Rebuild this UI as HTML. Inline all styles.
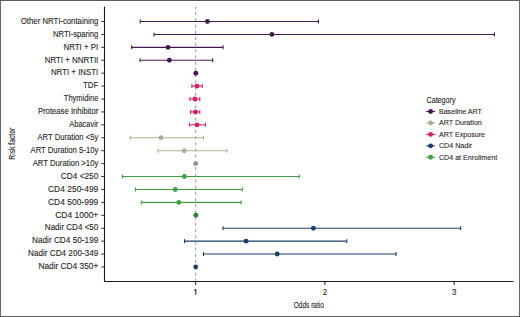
<!DOCTYPE html>
<html><head><meta charset="utf-8"><style>
html,body{margin:0;padding:0;background:#fff;}
body{width:520px;height:317px;overflow:hidden;}
.frame{position:absolute;left:0;top:0;width:518px;height:315px;border-style:solid;border-width:1px;border-color:#5a5a5a #666 #5a5a5a #686868;background:#fff;}
svg{position:absolute;left:0;top:0;}
text{font-family:"Liberation Sans",sans-serif;fill:#262626;stroke:#262626;stroke-width:0.1px;}
.yl{font-size:8.4px;}
.xl{font-size:8.7px;fill:#2a2a2a;stroke:#2a2a2a;}
.at{font-size:9.45px;fill:#222;stroke:#222;}
.lt{font-size:8.3px;}
.li{font-size:7.8px;}
</style></head><body>
<div class="frame"></div>
<svg width="520" height="317" viewBox="0 0 520 317">
<line x1="195.7" y1="6.5" x2="195.7" y2="281.5" stroke="#8a8a8a" stroke-width="0.9" stroke-dasharray="3.1 3.1" stroke-dashoffset="0.6"/>
<line x1="140.2" y1="21.50" x2="318.5" y2="21.50" stroke="#45194f" stroke-width="1.08"/>
<line x1="140.2" y1="19.50" x2="140.2" y2="23.50" stroke="#45194f" stroke-width="1.08"/>
<line x1="318.5" y1="19.50" x2="318.5" y2="23.50" stroke="#45194f" stroke-width="1.08"/>
<circle cx="207.4" cy="21.50" r="2.45" fill="#45194f"/>
<line x1="154.0" y1="34.42" x2="494.5" y2="34.42" stroke="#45194f" stroke-width="1.08"/>
<line x1="154.0" y1="32.42" x2="154.0" y2="36.42" stroke="#45194f" stroke-width="1.08"/>
<line x1="494.5" y1="32.42" x2="494.5" y2="36.42" stroke="#45194f" stroke-width="1.08"/>
<circle cx="271.9" cy="34.42" r="2.45" fill="#45194f"/>
<line x1="131.7" y1="47.34" x2="223.1" y2="47.34" stroke="#45194f" stroke-width="1.08"/>
<line x1="131.7" y1="45.34" x2="131.7" y2="49.34" stroke="#45194f" stroke-width="1.08"/>
<line x1="223.1" y1="45.34" x2="223.1" y2="49.34" stroke="#45194f" stroke-width="1.08"/>
<circle cx="168.0" cy="47.34" r="2.45" fill="#45194f"/>
<line x1="140.1" y1="60.26" x2="212.7" y2="60.26" stroke="#45194f" stroke-width="1.08"/>
<line x1="140.1" y1="58.26" x2="140.1" y2="62.26" stroke="#45194f" stroke-width="1.08"/>
<line x1="212.7" y1="58.26" x2="212.7" y2="62.26" stroke="#45194f" stroke-width="1.08"/>
<circle cx="169.3" cy="60.26" r="2.45" fill="#45194f"/>
<circle cx="195.85" cy="73.18" r="2.45" fill="#45194f"/>
<line x1="191.9" y1="86.10" x2="202.2" y2="86.10" stroke="#d41f6c" stroke-width="1.08"/>
<line x1="191.9" y1="84.10" x2="191.9" y2="88.10" stroke="#d41f6c" stroke-width="1.08"/>
<line x1="202.2" y1="84.10" x2="202.2" y2="88.10" stroke="#d41f6c" stroke-width="1.08"/>
<circle cx="197.0" cy="86.10" r="2.45" fill="#d41f6c"/>
<line x1="189.9" y1="99.02" x2="199.8" y2="99.02" stroke="#d41f6c" stroke-width="1.08"/>
<line x1="189.9" y1="97.02" x2="189.9" y2="101.02" stroke="#d41f6c" stroke-width="1.08"/>
<line x1="199.8" y1="97.02" x2="199.8" y2="101.02" stroke="#d41f6c" stroke-width="1.08"/>
<circle cx="194.9" cy="99.02" r="2.45" fill="#d41f6c"/>
<line x1="190.7" y1="111.94" x2="199.8" y2="111.94" stroke="#d41f6c" stroke-width="1.08"/>
<line x1="190.7" y1="109.94" x2="190.7" y2="113.94" stroke="#d41f6c" stroke-width="1.08"/>
<line x1="199.8" y1="109.94" x2="199.8" y2="113.94" stroke="#d41f6c" stroke-width="1.08"/>
<circle cx="195.5" cy="111.94" r="2.45" fill="#d41f6c"/>
<line x1="189.4" y1="124.86" x2="205.4" y2="124.86" stroke="#d41f6c" stroke-width="1.08"/>
<line x1="189.4" y1="122.86" x2="189.4" y2="126.86" stroke="#d41f6c" stroke-width="1.08"/>
<line x1="205.4" y1="122.86" x2="205.4" y2="126.86" stroke="#d41f6c" stroke-width="1.08"/>
<circle cx="197.0" cy="124.86" r="2.45" fill="#d41f6c"/>
<line x1="130.3" y1="137.78" x2="203.5" y2="137.78" stroke="#a9b38f" stroke-width="1.08"/>
<line x1="130.3" y1="135.78" x2="130.3" y2="139.78" stroke="#a9b38f" stroke-width="1.08"/>
<line x1="203.5" y1="135.78" x2="203.5" y2="139.78" stroke="#a9b38f" stroke-width="1.08"/>
<circle cx="161.0" cy="137.78" r="2.45" fill="#a9b38f"/>
<line x1="158.0" y1="150.70" x2="226.8" y2="150.70" stroke="#a9b38f" stroke-width="1.08"/>
<line x1="158.0" y1="148.70" x2="158.0" y2="152.70" stroke="#a9b38f" stroke-width="1.08"/>
<line x1="226.8" y1="148.70" x2="226.8" y2="152.70" stroke="#a9b38f" stroke-width="1.08"/>
<circle cx="184.2" cy="150.70" r="2.45" fill="#a9b38f"/>
<circle cx="195.7" cy="163.62" r="2.45" fill="#8f9583"/>
<line x1="122.6" y1="176.54" x2="299.3" y2="176.54" stroke="#3d9e44" stroke-width="1.08"/>
<line x1="122.6" y1="174.54" x2="122.6" y2="178.54" stroke="#3d9e44" stroke-width="1.08"/>
<line x1="299.3" y1="174.54" x2="299.3" y2="178.54" stroke="#3d9e44" stroke-width="1.08"/>
<circle cx="184.4" cy="176.54" r="2.45" fill="#3d9e44"/>
<line x1="135.5" y1="189.46" x2="242.3" y2="189.46" stroke="#3d9e44" stroke-width="1.08"/>
<line x1="135.5" y1="187.46" x2="135.5" y2="191.46" stroke="#3d9e44" stroke-width="1.08"/>
<line x1="242.3" y1="187.46" x2="242.3" y2="191.46" stroke="#3d9e44" stroke-width="1.08"/>
<circle cx="175.3" cy="189.46" r="2.45" fill="#3d9e44"/>
<line x1="141.3" y1="202.38" x2="241.1" y2="202.38" stroke="#3d9e44" stroke-width="1.08"/>
<line x1="141.3" y1="200.38" x2="141.3" y2="204.38" stroke="#3d9e44" stroke-width="1.08"/>
<line x1="241.1" y1="200.38" x2="241.1" y2="204.38" stroke="#3d9e44" stroke-width="1.08"/>
<circle cx="178.8" cy="202.38" r="2.45" fill="#3d9e44"/>
<circle cx="195.85" cy="215.30" r="2.45" fill="#2f8237"/>
<line x1="223.0" y1="228.22" x2="460.6" y2="228.22" stroke="#1a3f68" stroke-width="1.08"/>
<line x1="223.0" y1="226.22" x2="223.0" y2="230.22" stroke="#1a3f68" stroke-width="1.08"/>
<line x1="460.6" y1="226.22" x2="460.6" y2="230.22" stroke="#1a3f68" stroke-width="1.08"/>
<circle cx="313.4" cy="228.22" r="2.45" fill="#1a3f68"/>
<line x1="184.5" y1="241.14" x2="346.8" y2="241.14" stroke="#1a3f68" stroke-width="1.08"/>
<line x1="184.5" y1="239.14" x2="184.5" y2="243.14" stroke="#1a3f68" stroke-width="1.08"/>
<line x1="346.8" y1="239.14" x2="346.8" y2="243.14" stroke="#1a3f68" stroke-width="1.08"/>
<circle cx="246.1" cy="241.14" r="2.45" fill="#1a3f68"/>
<line x1="203.5" y1="254.06" x2="396.0" y2="254.06" stroke="#1a3f68" stroke-width="1.08"/>
<line x1="203.5" y1="252.06" x2="203.5" y2="256.06" stroke="#1a3f68" stroke-width="1.08"/>
<line x1="396.0" y1="252.06" x2="396.0" y2="256.06" stroke="#1a3f68" stroke-width="1.08"/>
<circle cx="277.2" cy="254.06" r="2.45" fill="#1a3f68"/>
<circle cx="195.7" cy="266.98" r="2.45" fill="#1a3f68"/>
<line x1="104.5" y1="6.5" x2="104.5" y2="281.5" stroke="#1a1a1a" stroke-width="1.1"/>
<line x1="103.95" y1="281.5" x2="513.5" y2="281.5" stroke="#1a1a1a" stroke-width="1.1"/>
<line x1="101.3" y1="21.50" x2="104.5" y2="21.50" stroke="#1a1a1a" stroke-width="0.9"/>
<text x="0" y="0" transform="translate(98.3 23.75) scale(0.9253 1)" text-anchor="end" class="yl">Other NRTI-containing</text>
<line x1="101.3" y1="34.42" x2="104.5" y2="34.42" stroke="#1a1a1a" stroke-width="0.9"/>
<text x="0" y="0" transform="translate(98.3 36.67) scale(0.9119 1)" text-anchor="end" class="yl">NRTI-sparing</text>
<line x1="101.3" y1="47.34" x2="104.5" y2="47.34" stroke="#1a1a1a" stroke-width="0.9"/>
<text x="0" y="0" transform="translate(98.3 49.59) scale(0.9456 1)" text-anchor="end" class="yl">NRTI + PI</text>
<line x1="101.3" y1="60.26" x2="104.5" y2="60.26" stroke="#1a1a1a" stroke-width="0.9"/>
<text x="0" y="0" transform="translate(98.3 62.51) scale(0.9431 1)" text-anchor="end" class="yl">NRTI + NNRTII</text>
<line x1="101.3" y1="73.18" x2="104.5" y2="73.18" stroke="#1a1a1a" stroke-width="0.9"/>
<text x="0" y="0" transform="translate(98.3 75.43) scale(0.9400 1)" text-anchor="end" class="yl">NRTI + INSTI</text>
<line x1="101.3" y1="86.10" x2="104.5" y2="86.10" stroke="#1a1a1a" stroke-width="0.9"/>
<text x="0" y="0" transform="translate(98.3 88.35) scale(0.9320 1)" text-anchor="end" class="yl">TDF</text>
<line x1="101.3" y1="99.02" x2="104.5" y2="99.02" stroke="#1a1a1a" stroke-width="0.9"/>
<text x="0" y="0" transform="translate(98.3 101.27) scale(0.8920 1)" text-anchor="end" class="yl">Thymidine</text>
<line x1="101.3" y1="111.94" x2="104.5" y2="111.94" stroke="#1a1a1a" stroke-width="0.9"/>
<text x="0" y="0" transform="translate(98.3 114.19) scale(0.9196 1)" text-anchor="end" class="yl">Protease Inhibitor</text>
<line x1="101.3" y1="124.86" x2="104.5" y2="124.86" stroke="#1a1a1a" stroke-width="0.9"/>
<text x="0" y="0" transform="translate(98.3 127.11) scale(0.8877 1)" text-anchor="end" class="yl">Abacavir</text>
<line x1="101.3" y1="137.78" x2="104.5" y2="137.78" stroke="#1a1a1a" stroke-width="0.9"/>
<text x="0" y="0" transform="translate(98.3 140.03) scale(0.9135 1)" text-anchor="end" class="yl">ART Duration &lt;5y</text>
<line x1="101.3" y1="150.70" x2="104.5" y2="150.70" stroke="#1a1a1a" stroke-width="0.9"/>
<text x="0" y="0" transform="translate(98.3 152.95) scale(0.9180 1)" text-anchor="end" class="yl">ART Duration 5-10y</text>
<line x1="101.3" y1="163.62" x2="104.5" y2="163.62" stroke="#1a1a1a" stroke-width="0.9"/>
<text x="0" y="0" transform="translate(98.3 165.87) scale(0.9209 1)" text-anchor="end" class="yl">ART Duration &gt;10y</text>
<line x1="101.3" y1="176.54" x2="104.5" y2="176.54" stroke="#1a1a1a" stroke-width="0.9"/>
<text x="0" y="0" transform="translate(98.3 178.79) scale(0.9879 1)" text-anchor="end" class="yl">CD4 &lt;250</text>
<line x1="101.3" y1="189.46" x2="104.5" y2="189.46" stroke="#1a1a1a" stroke-width="0.9"/>
<text x="0" y="0" transform="translate(98.3 191.71) scale(1.0093 1)" text-anchor="end" class="yl">CD4 250-499</text>
<line x1="101.3" y1="202.38" x2="104.5" y2="202.38" stroke="#1a1a1a" stroke-width="0.9"/>
<text x="0" y="0" transform="translate(98.3 204.63) scale(1.0093 1)" text-anchor="end" class="yl">CD4 500-999</text>
<line x1="101.3" y1="215.30" x2="104.5" y2="215.30" stroke="#1a1a1a" stroke-width="0.9"/>
<text x="0" y="0" transform="translate(98.3 217.55) scale(1.0114 1)" text-anchor="end" class="yl">CD4 1000+</text>
<line x1="101.3" y1="228.22" x2="104.5" y2="228.22" stroke="#1a1a1a" stroke-width="0.9"/>
<text x="0" y="0" transform="translate(98.3 230.47) scale(0.9602 1)" text-anchor="end" class="yl">Nadir CD4 &lt;50</text>
<line x1="101.3" y1="241.14" x2="104.5" y2="241.14" stroke="#1a1a1a" stroke-width="0.9"/>
<text x="0" y="0" transform="translate(98.3 243.39) scale(0.9810 1)" text-anchor="end" class="yl">Nadir CD4 50-199</text>
<line x1="101.3" y1="254.06" x2="104.5" y2="254.06" stroke="#1a1a1a" stroke-width="0.9"/>
<text x="0" y="0" transform="translate(98.3 256.31) scale(0.9734 1)" text-anchor="end" class="yl">Nadir CD4 200-349</text>
<line x1="101.3" y1="266.98" x2="104.5" y2="266.98" stroke="#1a1a1a" stroke-width="0.9"/>
<text x="0" y="0" transform="translate(98.3 269.23) scale(0.9912 1)" text-anchor="end" class="yl">Nadir CD4 350+</text>
<line x1="195.6" y1="281.5" x2="195.6" y2="284.8" stroke="#1a1a1a" stroke-width="1.05"/>
<path d="M195.85 288.9 L195.85 294.8 M195.95 289.3 L194.30 290.6" stroke="#2a2a2a" stroke-width="1.05" fill="none"/>
<line x1="324.9" y1="281.5" x2="324.9" y2="284.8" stroke="#1a1a1a" stroke-width="1.05"/>
<text x="0" y="0" transform="translate(324.9 294.85) scale(0.92 1)" text-anchor="middle" class="xl">2</text>
<line x1="454.2" y1="281.5" x2="454.2" y2="284.8" stroke="#1a1a1a" stroke-width="1.05"/>
<text x="0" y="0" transform="translate(454.2 294.85) scale(0.92 1)" text-anchor="middle" class="xl">3</text>
<text x="0" y="0" transform="translate(308.8 307.5) scale(0.695 1)" text-anchor="middle" class="at">Odds ratio</text>
<text x="0" y="0" transform="translate(15.4 143.8) rotate(-90) scale(0.715 1)" text-anchor="middle" class="at">Risk factor</text>
<text x="0" y="0" transform="translate(426.5 102.7) scale(0.862 1)" class="lt">Category</text>
<line x1="426.2" y1="111.50" x2="435.0" y2="111.50" stroke="#45194f" stroke-width="1.08"/>
<circle cx="430.6" cy="111.50" r="2.45" fill="#45194f"/>
<text x="0" y="0" transform="translate(438.9 113.85) scale(0.915 1)" class="li">Baseline ART</text>
<line x1="426.2" y1="122.95" x2="435.0" y2="122.95" stroke="#a9b38f" stroke-width="1.08"/>
<circle cx="430.6" cy="122.95" r="2.45" fill="#a9b38f"/>
<text x="0" y="0" transform="translate(438.9 125.30) scale(0.915 1)" class="li">ART Duration</text>
<line x1="426.2" y1="134.40" x2="435.0" y2="134.40" stroke="#d41f6c" stroke-width="1.08"/>
<circle cx="430.6" cy="134.40" r="2.45" fill="#d41f6c"/>
<text x="0" y="0" transform="translate(438.9 136.75) scale(0.915 1)" class="li">ART Exposure</text>
<line x1="426.2" y1="145.85" x2="435.0" y2="145.85" stroke="#1a3f68" stroke-width="1.08"/>
<circle cx="430.6" cy="145.85" r="2.45" fill="#1a3f68"/>
<text x="0" y="0" transform="translate(438.9 148.20) scale(0.915 1)" class="li">CD4 Nadir</text>
<line x1="426.2" y1="157.30" x2="435.0" y2="157.30" stroke="#3d9e44" stroke-width="1.08"/>
<circle cx="430.6" cy="157.30" r="2.45" fill="#3d9e44"/>
<text x="0" y="0" transform="translate(438.9 159.65) scale(0.915 1)" class="li">CD4 at Enrollment</text>
</svg>
</body></html>
